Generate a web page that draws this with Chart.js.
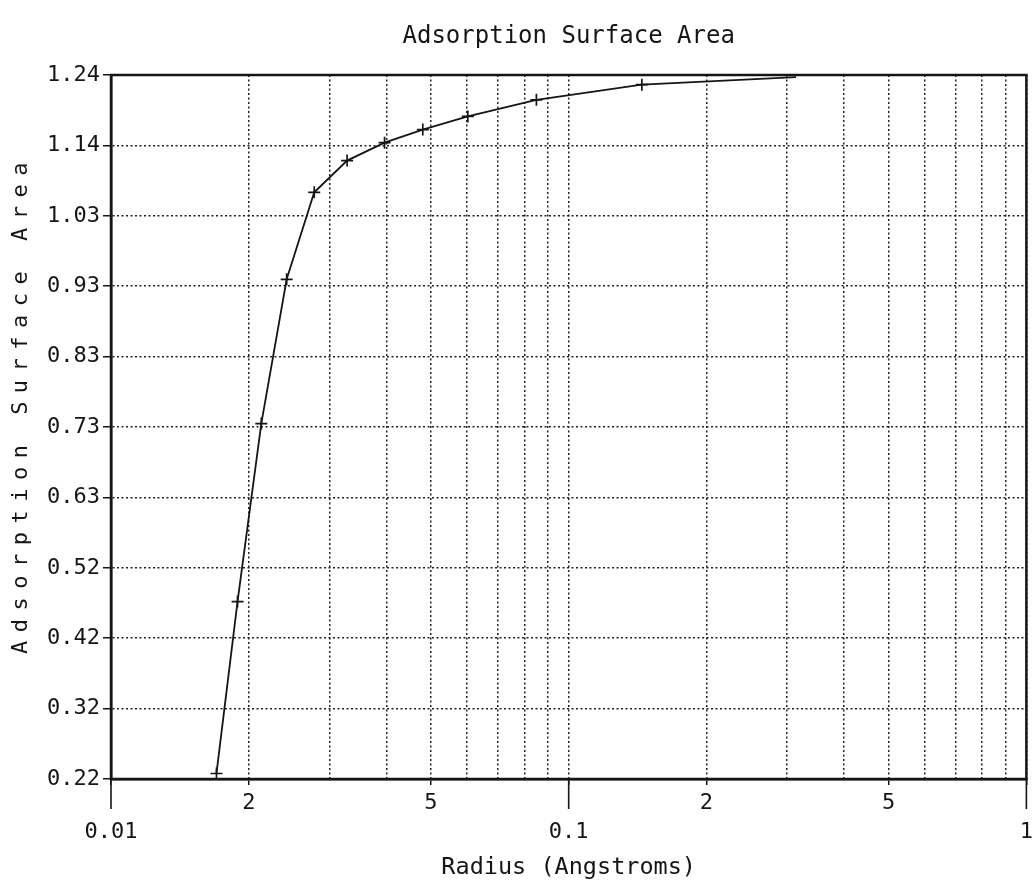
<!DOCTYPE html>
<html><head><meta charset="utf-8">
<script src="https://cdn.jsdelivr.net/npm/chart.js@4/dist/chart.umd.min.js"></script>
<style>html,body{margin:0;padding:0;background:#fff}#wrap{width:1036px;height:890px}</style>
</head><body><div id="wrap"><canvas id="c" width="1036" height="890"></canvas></div>
<script>
const chartTitle = 'Adsorption Surface Area';
const xAxisTitle = 'Radius (Angstroms)';
const yAxisTitle = 'Adsorption Surface Area';

const radius      = [0.0170, 0.0189, 0.0213, 0.0242, 0.0278, 0.0328, 0.0396, 0.0480, 0.0602, 0.0850, 0.1445, 0.314];
const surfaceArea = [0.228,  0.477,  0.735,  0.944,  1.070,  1.116,  1.142,  1.161,  1.180,  1.204,  1.226,  1.237];

const yTickValues = [0.22, 0.322, 0.424, 0.526, 0.628, 0.73, 0.832, 0.934, 1.036, 1.138, 1.24];
const yTickLabels = ['0.22', '0.32', '0.42', '0.52', '0.63', '0.73', '0.83', '0.93', '1.03', '1.14', '1.24'];

const xGridValues = [0.01, 0.02, 0.03, 0.04, 0.05, 0.06, 0.07, 0.08, 0.09,
                     0.1, 0.2, 0.3, 0.4, 0.5, 0.6, 0.7, 0.8, 0.9, 1];
const xLabelValues = [0.01, 0.02, 0.05, 0.1, 0.2, 0.5, 1];
const xLabelTexts  = ['0.01', '2', '5', '0.1', '2', '5', '1'];
const xDecades     = [0.01, 0.1, 1];

const FONT = 'DejaVu Sans Mono';
const INK = '#151515';

function matchIdx(arr, v) {
  return arr.findIndex(a => Math.abs(Math.log10(a) - Math.log10(v)) < 1e-6);
}

const framePlugin = {
  id: 'frame',
  afterDraw(chart) {
    const {ctx, chartArea: a, scales: {x}} = chart;
    ctx.save();
    ctx.strokeStyle = INK;
    ctx.lineWidth = 2.5;
    ctx.strokeRect(a.left, a.top, a.right - a.left, a.bottom - a.top);
    ctx.lineWidth = 1.6;
    xDecades.forEach(v => {
      const px = x.getPixelForValue(v);
      ctx.beginPath();
      ctx.moveTo(px, a.bottom);
      ctx.lineTo(px, a.bottom + 30);
      ctx.stroke();
    });
    // rotated y-axis title with wide letter spacing
    ctx.fillStyle = INK;
    ctx.font = '22px "' + FONT + '"';
    ctx.letterSpacing = '8.5px';
    ctx.textAlign = 'center';
    ctx.textBaseline = 'middle';
    ctx.translate(21, 408);
    ctx.rotate(-Math.PI / 2);
    ctx.fillText(yAxisTitle, 4, 0);
    ctx.restore();
  }
};

new Chart(document.getElementById('c'), {
  type: 'scatter',
  data: {
    datasets: [{
      data: radius.map((r, i) => ({x: r, y: surfaceArea[i]})),
      showLine: true,
      borderColor: INK,
      borderWidth: 1.8,
      tension: 0,
      fill: false,
      pointStyle: 'cross',
      pointRadius: c => (c.dataIndex === radius.length - 1 ? 0 : 6),
      pointBorderWidth: 1.7,
      pointBorderColor: INK,
      pointBackgroundColor: INK
    }]
  },
  options: {
    responsive: false,
    animation: false,
    devicePixelRatio: 1,
    layout: {padding: {left: 0, right: 8, top: 0, bottom: 0}},
    plugins: {
      legend: {display: false},
      tooltip: {enabled: false},
      title: {
        display: true, text: chartTitle, color: INK, fullSize: false,
        font: {family: FONT, size: 24, weight: 'normal', lineHeight: 1.2},
        padding: {top: 22, bottom: 24.2}
      }
    },
    scales: {
      x: {
        type: 'logarithmic', min: 0.01, max: 1,
        afterBuildTicks: s => { s.ticks = xGridValues.map(v => ({value: v})); },
        afterFit: s => { s.height = 111; },
        ticks: {
          autoSkip: false, maxRotation: 0, minRotation: 0, padding: 3, color: INK,
          font: {family: FONT, size: 22, lineHeight: 1.35},
          callback: v => {
            const i = matchIdx(xLabelValues, v);
            if (i < 0) return '';
            return matchIdx(xDecades, v) >= 0 ? ['', xLabelTexts[i]] : xLabelTexts[i];
          }
        },
        grid: {
          color: '#222', lineWidth: 1.5, tickLength: 6, tickWidth: 1.5,
          tickColor: c => (c.tick && matchIdx(xLabelValues, c.tick.value) >= 0 ? INK : 'rgba(0,0,0,0)')
        },
        border: {color: INK, width: 2.5, dash: [2, 2.5]},
        title: {
          display: true, text: xAxisTitle, color: INK,
          font: {family: FONT, size: 23.5, lineHeight: 1.2},
          padding: {top: 4, bottom: 8}
        }
      },
      y: {
        min: 0.22, max: 1.24,
        afterBuildTicks: s => { s.ticks = yTickValues.map(v => ({value: v})); },
        afterFit: s => { s.width = 111; },
        ticks: {
          autoSkip: false, padding: 3, color: INK,
          font: {family: FONT, size: 22},
          callback: v => {
            const i = yTickValues.findIndex(t => Math.abs(t - v) < 1e-6);
            return i >= 0 ? yTickLabels[i] : '';
          }
        },
        grid: {color: '#222', lineWidth: 1.5, tickLength: 8, tickWidth: 1.5, tickColor: INK},
        border: {color: INK, width: 2.5, dash: [2, 2.5]}
      }
    }
  },
  plugins: [framePlugin]
});
</script>
</body></html>
